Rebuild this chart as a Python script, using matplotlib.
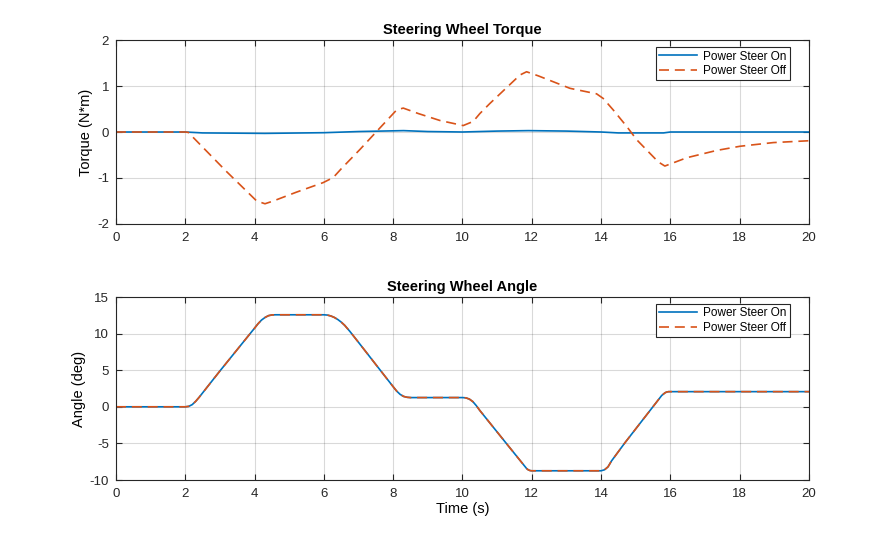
import numpy as np
import matplotlib
matplotlib.use('Agg')
from matplotlib import pyplot as plt

# torque, power steering off
t_off = [0, 2.0, 2.09, 2.23, 3.19, 4.06, 4.3, 4.54, 5.2, 5.98, 6.27, 6.5, 7.04, 7.52,
         8.1, 8.29, 8.73, 9.35, 10.02, 10.31, 10.5, 10.79, 11.66, 11.85, 12.19, 13.1,
         13.87, 14.06, 14.35, 14.74, 15.03, 15.65, 15.84, 16.47, 17.34, 18.01, 18.97, 20.0]
tq_off = [0, 0, -0.01, -0.12, -0.86, -1.5, -1.56, -1.5, -1.31, -1.1, -0.99, -0.8, -0.38, 0.01,
          0.48, 0.52, 0.40, 0.25, 0.14, 0.23, 0.4, 0.62, 1.24, 1.31, 1.22, 0.95,
          0.83, 0.73, 0.48, 0.12, -0.17, -0.65, -0.74, -0.56, -0.4, -0.31, -0.23, -0.19]

# torque, power steering on
t_on = [0, 2.0, 2.5, 4.3, 6.0, 7.0, 8.3, 9.0, 10.0, 11.0, 11.9, 13.0, 14.0, 14.5, 15.8, 16.0, 20.0]
tq_on = [0, 0, -0.02, -0.03, -0.015, 0.01, 0.03, 0.01, 0.0, 0.02, 0.03, 0.02, 0.0, -0.02, -0.02, 0.0, 0.0]

# steering wheel angle (both cases overlap)
t_ang = [0, 2.0, 2.1, 2.2, 2.3, 2.4, 3.0, 4.0, 4.1, 4.2, 4.3, 4.4, 4.5, 4.6,
         6.0, 6.1, 6.2, 6.3, 6.4, 6.5, 6.6, 6.75, 7.0, 8.0, 8.1, 8.2, 8.3, 8.4, 8.5,
         10.0, 10.1, 10.2, 10.3, 10.4, 10.5, 11.27, 11.85, 11.9, 11.95, 12.0,
         14.0, 14.1, 14.2, 14.3, 14.69, 15.75, 15.85, 15.9, 15.95, 20.0]
ang = [0, 0, 0.06, 0.3, 0.75, 1.3, 4.9, 10.75, 11.35, 11.85, 12.2, 12.45, 12.55, 12.57,
       12.57, 12.53, 12.41, 12.21, 11.93, 11.57, 11.13, 10.3, 8.8, 2.74, 2.15, 1.7, 1.42, 1.3, 1.26,
       1.26, 1.22, 1.05, 0.7, 0.15, -0.5, -5.03, -8.43, -8.62, -8.71, -8.74,
       -8.74, -8.6, -8.2, -7.4, -4.9, 1.55, 1.93, 2.03, 2.07, 2.07]

blue = '#0072BD'
orange = '#D95319'
labels = ['Power Steer On', 'Power Steer Off']

plt.rcParams['font.family'] = ['Liberation Sans', 'DejaVu Sans']
plt.rcParams['font.size'] = 10
plt.rcParams['axes.unicode_minus'] = False

fig = plt.figure(figsize=(8.95, 5.4), dpi=100)
ax1 = fig.add_axes([0.1296, 0.5852, 0.7743, 0.3407])
ax2 = fig.add_axes([0.1296, 0.1111, 0.7743, 0.3389])

def style(ax):
    ax.grid(True, color='#000000', alpha=0.15, linewidth=0.8)
    ax.set_axisbelow(True)
    ax.tick_params(direction='in', top=True, right=True, length=4, width=0.8,
                   colors='#262626', labelsize=9.5)
    ax.tick_params(axis='x', pad=6)
    ax.tick_params(axis='y', pad=5)
    for s in ax.spines.values():
        s.set_color('#262626')
        s.set_linewidth(0.8)
    ax.set_xlim(0, 20)
    ax.set_xticks(np.arange(0, 21, 2))

ax1.plot(t_on, tq_on, color=blue, lw=1.2, label=labels[0])
ax1.plot(t_off, tq_off, color=orange, lw=1.2, ls=(0, (6, 3.5)), label=labels[1])
style(ax1)
ax1.set_ylim(-2, 2)
ax1.set_yticks([-2, -1, 0, 1, 2])
ax1.set_title('Steering Wheel Torque', fontweight='bold', fontsize=10.5, pad=4)
ax1.set_ylabel('Torque (N*m)', fontsize=10.5, labelpad=3)

ax2.plot(t_ang, ang, color=blue, lw=1.2, label=labels[0])
ax2.plot(t_ang, ang, color=orange, lw=1.2, ls=(0, (6, 3.5)), label=labels[1])
style(ax2)
ax2.set_ylim(-10, 15)
ax2.set_yticks([-10, -5, 0, 5, 10, 15])
ax2.set_title('Steering Wheel Angle', fontweight='bold', fontsize=10.5, pad=4)
ax2.set_ylabel('Angle (deg)', fontsize=10.5, labelpad=3)
ax2.set_xlabel('Time (s)', fontsize=10.5, labelpad=1)

for ax in (ax1, ax2):
    leg = ax.legend(loc='upper right', bbox_to_anchor=(0.9726, 0.962), borderaxespad=0,
                    fontsize=8.5, fancybox=False, framealpha=1, edgecolor='#262626',
                    handlelength=3.2, borderpad=0.3, labelspacing=0.2, handletextpad=0.5)
    leg.get_frame().set_linewidth(0.8)

fig.savefig('out.png', dpi=100)
